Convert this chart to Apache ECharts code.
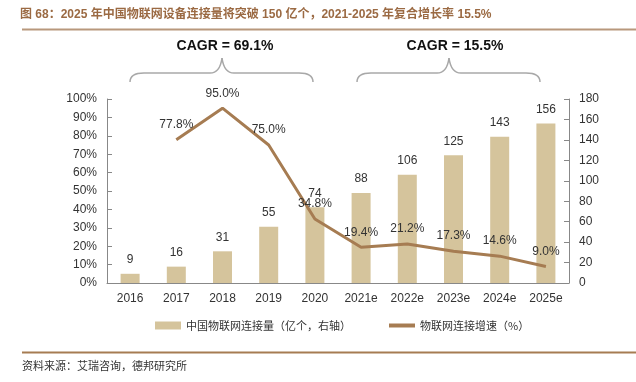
<!DOCTYPE html>
<html><head><meta charset="utf-8">
<script src="https://cdn.jsdelivr.net/npm/echarts@6/dist/echarts.min.js"></script>
<style>html,body{margin:0;padding:0;background:#fff}#c{width:636px;height:382px}</style>
</head><body><div id="c"></div>
<script>
const categories = ['2016','2017','2018','2019','2020','2021e','2022e','2023e','2024e','2025e'];
const connections = [9,16,31,55,74,88,106,125,143,156];
const growth = [null,77.8,95.0,75.0,34.8,19.4,21.2,17.3,14.6,9.0];
const leftTicks = {min:0,max:100,interval:10};
const rightTicks = {min:0,max:180,interval:20};
const titleText = '图 68：2025 年中国物联网设备连接量将突破 150 亿个，2021-2025 年复合增长率 15.5%';
const cagrTexts = ['CAGR = 69.1%','CAGR = 15.5%'];
const sourceText = '资料来源：艾瑞咨询，德邦研究所';

const chart = echarts.init(document.getElementById('c'));
const latin = '"Liberation Sans", Arial, sans-serif';
const cjk = '"Noto Sans CJK SC", sans-serif';
const braceStyle = {fill:null,stroke:'#a8a8a8',lineWidth:1.5};
function brace(x1, x2, px) {
  const yb = 82, yh = 73, yp = 58;
  const bz = (a,b,c) => ({type:'bezierCurve',shape:{x1:a[0],y1:a[1],cpx1:b[0],cpy1:b[1],x2:c[0],y2:c[1]},style:braceStyle});
  const ln = (a,c) => ({type:'line',shape:{x1:a[0],y1:a[1],x2:c[0],y2:c[1]},style:braceStyle});
  return [
    bz([x1,yb],[x1,yh],[x1+14,yh]),
    ln([x1+14,yh],[px-12,yh]),
    bz([px-12,yh],[px-2,yh],[px,yp]),
    bz([px,yp],[px+2,yh],[px+12,yh]),
    ln([px+12,yh],[x2-14,yh]),
    bz([x2-14,yh],[x2,yh],[x2,yb])
  ];
}
chart.setOption({
  animation:false,
  textStyle:{fontFamily:latin},
  grid:{left:107,right:67,top:99,bottom:99},
  legend:{
    bottom:46, left:150, itemGap:36, itemWidth:26, itemHeight:8,
    textStyle:{fontFamily:cjk,fontSize:11,color:'#333'},
    data:[{name:'中国物联网连接量（亿个，右轴）',icon:'rect'},
          {name:'物联网连接增速（%）',itemStyle:{opacity:0},lineStyle:{width:4}}]
  },
  xAxis:{
    type:'category', data:categories,
    axisLine:{lineStyle:{color:'#888'}},
    axisTick:{inside:true,lineStyle:{color:'#888'},length:5},
    axisLabel:{color:'#333',fontSize:12,margin:10,fontFamily:latin}
  },
  yAxis:[
    {type:'value',min:leftTicks.min,max:leftTicks.max,interval:leftTicks.interval,
     splitLine:{show:false},
     axisLine:{show:true,lineStyle:{color:'#888'}},
     axisTick:{show:true,inside:true,length:5,lineStyle:{color:'#888'}},
     axisLabel:{formatter:'{value}%',color:'#333',fontSize:12,margin:10,fontFamily:latin}},
    {type:'value',min:rightTicks.min,max:rightTicks.max,interval:rightTicks.interval,
     splitLine:{show:false},
     axisLine:{show:true,lineStyle:{color:'#888'}},
     axisTick:{show:true,inside:true,length:5,lineStyle:{color:'#888'}},
     axisLabel:{color:'#333',fontSize:12,margin:10,fontFamily:latin}}
  ],
  series:[
    {name:'中国物联网连接量（亿个，右轴）',type:'bar',yAxisIndex:1,data:connections,
     barWidth:19,itemStyle:{color:'#d5c49c'},
     label:{show:true,position:'top',distance:8,color:'#333',fontSize:12,fontFamily:latin}},
    {name:'物联网连接增速（%）',type:'line',yAxisIndex:0,data:growth,
     symbol:'circle',symbolSize:0,showSymbol:true,z:5,
     lineStyle:{color:'#a67c52',width:3},itemStyle:{color:'#a67c52'},
     label:{show:true,position:'top',distance:9,color:'#333',fontSize:12,fontFamily:latin,
       formatter:p=>p.value.toFixed(1)+'%'}}
  ],
  graphic:[
    {type:'text',x:20,y:9,style:{text:titleText,fill:'#9b6a43',font:'bold 12px '+latin+', '+cjk}},
    {type:'line',shape:{x1:22,y1:29.5,x2:636,y2:29.5},style:{stroke:'#b8987c',lineWidth:2}},
    {type:'text',x:225,y:46,style:{text:cagrTexts[0],fill:'#111',font:'bold 14px '+latin,align:'center',verticalAlign:'middle'}},
    {type:'text',x:455,y:46,style:{text:cagrTexts[1],fill:'#111',font:'bold 14px '+latin,align:'center',verticalAlign:'middle'}},
    ...brace(130,313,222),
    ...brace(357,540,449),
    {type:'line',shape:{x1:22,y1:352.5,x2:636,y2:352.5},style:{stroke:'#a67c52',lineWidth:2}},
    {type:'text',x:22,y:360,style:{text:sourceText,fill:'#333',font:'11px '+cjk}}
  ]
});
</script></body></html>
